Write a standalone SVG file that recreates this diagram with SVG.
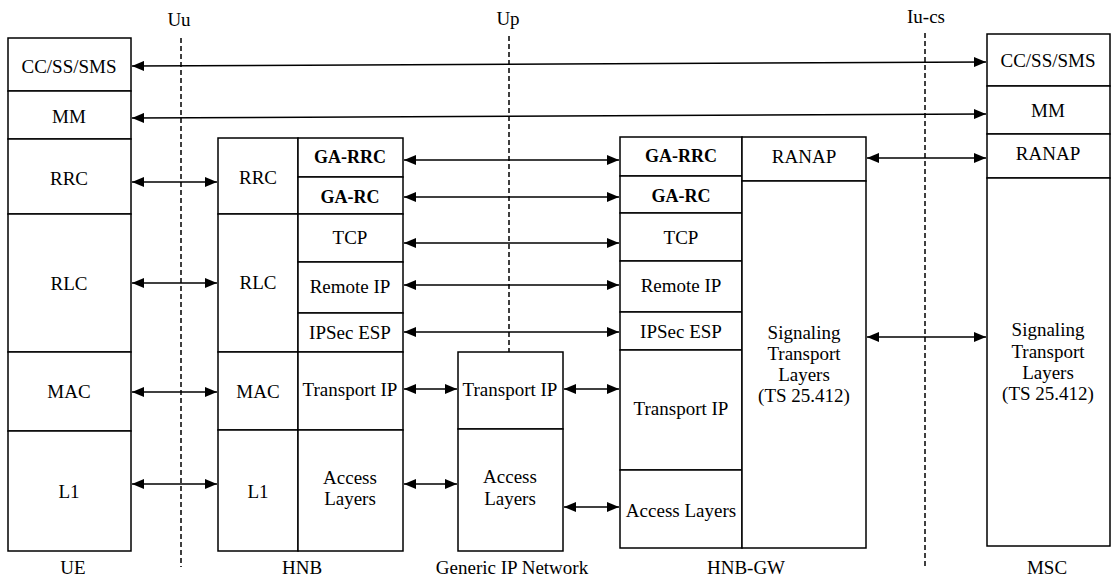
<svg xmlns="http://www.w3.org/2000/svg" width="1111" height="578" viewBox="0 0 1111 578" font-family="Liberation Serif">
<style>
.b{fill:#fff;stroke:#000;stroke-width:1.5}
.t{font-size:19px;fill:#000;text-anchor:middle;dominant-baseline:central}
.g{font-weight:bold;font-size:18px}
.c{fill:none;stroke:#000;stroke-width:1.5;marker-start:url(#ah);marker-end:url(#ah)}
.d{fill:none;stroke:#000;stroke-width:1.5;stroke-dasharray:5 3}
</style>
<defs>
<marker id="ah" viewBox="0 0 12 10" refX="12" refY="5" markerWidth="12" markerHeight="10" markerUnits="userSpaceOnUse" orient="auto-start-reverse">
<path d="M0,0 L12,5 L0,10 z" fill="#000"/>
</marker>
</defs>
<rect width="1111" height="578" fill="#fff"/>

<g id="interfaces" font-family="Liberation Serif">
<line class="d" x1="181" y1="38" x2="181" y2="567"/>
<line class="d" x1="509" y1="36" x2="509" y2="352"/>
<line class="d" x1="925" y1="33" x2="925" y2="567"/>
<text class="t" x="179" y="19">Uu</text>
<text class="t" x="508" y="18">Up</text>
<text class="t" x="926" y="16">Iu-cs</text>
</g>

<g id="UE" font-family="Liberation Serif">
<rect class="b" x="8" y="38" width="123" height="53"/>
<rect class="b" x="8" y="91" width="123" height="48"/>
<rect class="b" x="8" y="139" width="123" height="75"/>
<rect class="b" x="8" y="214" width="123" height="138"/>
<rect class="b" x="8" y="352" width="123" height="79"/>
<rect class="b" x="8" y="431" width="123" height="120"/>
<text class="t" x="69" y="66">CC/SS/SMS</text>
<text class="t" x="69" y="116">MM</text>
<text class="t" x="69" y="178">RRC</text>
<text class="t" x="69" y="283">RLC</text>
<text class="t" x="69" y="391">MAC</text>
<text class="t" x="69" y="491">L1</text>
<text class="t" x="73" y="567">UE</text>
</g>

<g id="HNB" font-family="Liberation Serif">
<rect class="b" x="218" y="138" width="80" height="76"/>
<rect class="b" x="218" y="214" width="80" height="138"/>
<rect class="b" x="218" y="352" width="80" height="78"/>
<rect class="b" x="218" y="430" width="80" height="121"/>
<rect class="b" x="298" y="138" width="105" height="39"/>
<rect class="b" x="298" y="177" width="105" height="37"/>
<rect class="b" x="298" y="214" width="105" height="48"/>
<rect class="b" x="298" y="262" width="105" height="51"/>
<rect class="b" x="298" y="313" width="105" height="39"/>
<rect class="b" x="298" y="352" width="105" height="78"/>
<rect class="b" x="298" y="430" width="105" height="121"/>
<text class="t" x="258" y="177">RRC</text>
<text class="t" x="258" y="282">RLC</text>
<text class="t" x="258" y="391">MAC</text>
<text class="t" x="258" y="491">L1</text>
<text class="t g" x="350" y="157">GA-RRC</text>
<text class="t g" x="350" y="197">GA-RC</text>
<text class="t" x="350" y="237">TCP</text>
<text class="t" x="350" y="286">Remote IP</text>
<text class="t" x="350" y="332">IPSec ESP</text>
<text class="t" x="350" y="389">Transport IP</text>
<text class="t" x="350" y="477">Access</text>
<text class="t" x="350" y="498">Layers</text>
<text class="t" x="302" y="567">HNB</text>
</g>

<g id="GIP" font-family="Liberation Serif">
<rect class="b" x="458" y="352" width="105" height="77"/>
<rect class="b" x="458" y="429" width="105" height="122"/>
<text class="t" x="510" y="389">Transport IP</text>
<text class="t" x="510" y="476">Access</text>
<text class="t" x="510" y="498">Layers</text>
<text class="t" x="512" y="567">Generic IP Network</text>
</g>

<g id="HNBGW" font-family="Liberation Serif">
<rect class="b" x="620" y="137" width="122" height="39"/>
<rect class="b" x="620" y="176" width="122" height="37"/>
<rect class="b" x="620" y="213" width="122" height="48"/>
<rect class="b" x="620" y="261" width="122" height="51"/>
<rect class="b" x="620" y="312" width="122" height="38"/>
<rect class="b" x="620" y="350" width="122" height="120"/>
<rect class="b" x="620" y="470" width="122" height="78"/>
<rect class="b" x="742" y="137" width="124" height="44"/>
<rect class="b" x="742" y="181" width="124" height="367"/>
<text class="t g" x="681" y="156">GA-RRC</text>
<text class="t g" x="681" y="196">GA-RC</text>
<text class="t" x="681" y="237">TCP</text>
<text class="t" x="681" y="285">Remote IP</text>
<text class="t" x="681" y="331">IPSec ESP</text>
<text class="t" x="681" y="408">Transport IP</text>
<text class="t" x="681" y="510">Access Layers</text>
<text class="t" x="804" y="156">RANAP</text>
<text class="t" x="804" y="332">Signaling</text>
<text class="t" x="804" y="353">Transport</text>
<text class="t" x="804" y="374">Layers</text>
<text class="t" x="804" y="395">(TS 25.412)</text>
<text class="t" x="746" y="567">HNB-GW</text>
</g>

<g id="MSC" font-family="Liberation Serif">
<rect class="b" x="987" y="34" width="123" height="52"/>
<rect class="b" x="987" y="86" width="123" height="48"/>
<rect class="b" x="987" y="134" width="123" height="44"/>
<rect class="b" x="987" y="178" width="123" height="368"/>
<text class="t" x="1048" y="60">CC/SS/SMS</text>
<text class="t" x="1048" y="110">MM</text>
<text class="t" x="1048" y="153">RANAP</text>
<text class="t" x="1048" y="329">Signaling</text>
<text class="t" x="1048" y="351">Transport</text>
<text class="t" x="1048" y="372">Layers</text>
<text class="t" x="1048" y="393">(TS 25.412)</text>
<text class="t" x="1047" y="567">MSC</text>
</g>

<g id="connectors">
<line class="c" x1="132" y1="66" x2="986" y2="62"/>
<line class="c" x1="132" y1="118" x2="986" y2="114"/>
<line class="c" x1="132" y1="182" x2="217" y2="182"/>
<line class="c" x1="132" y1="283" x2="217" y2="283"/>
<line class="c" x1="132" y1="392" x2="217" y2="392"/>
<line class="c" x1="132" y1="484" x2="217" y2="484"/>
<line class="c" x1="404" y1="160" x2="619" y2="160"/>
<line class="c" x1="404" y1="197" x2="619" y2="197"/>
<line class="c" x1="404" y1="243" x2="619" y2="243"/>
<line class="c" x1="404" y1="285" x2="619" y2="285"/>
<line class="c" x1="404" y1="332" x2="619" y2="332"/>
<line class="c" x1="404" y1="389" x2="457" y2="389"/>
<line class="c" x1="564" y1="389" x2="619" y2="389"/>
<line class="c" x1="404" y1="484" x2="457" y2="484"/>
<line class="c" x1="564" y1="507" x2="619" y2="507"/>
<line class="c" x1="867" y1="158" x2="986" y2="158"/>
<line class="c" x1="867" y1="337" x2="986" y2="337"/>
</g>
</svg>
